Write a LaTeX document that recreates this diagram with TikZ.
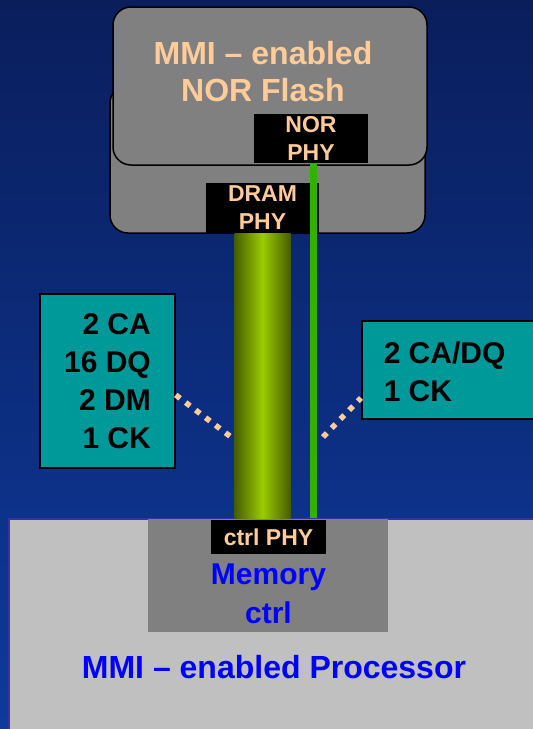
\documentclass[tikz,border=0pt]{standalone}
\usepackage{fontspec}
\setmainfont{Liberation Sans}
\usetikzlibrary{positioning,calc}
\definecolor{slidetop}{HTML}{0A1E5C}
\definecolor{slidebot}{HTML}{0E3A9C}
\definecolor{chipgray}{HTML}{808080}
\definecolor{socgray}{HTML}{C0C0C0}
\definecolor{peach}{HTML}{FFCC99}
\definecolor{sigteal}{HTML}{009999}
\definecolor{busdark}{HTML}{485C00}
\definecolor{buslite}{HTML}{99CC00}
\definecolor{norgreen}{HTML}{33B000}
\definecolor{socline}{HTML}{3B2FA6}
\definecolor{ctrlblue}{HTML}{0000FF}

\begin{document}
\begin{tikzpicture}[
  x=1pt, y=-1pt,
  pkg/.style    = {draw=black, line width=1.5pt, fill=chipgray, rounded corners=18pt},
  phy/.style    = {fill=black, text=peach, inner sep=0pt, align=center,
                   font=\bfseries\fontsize{23}{28}\selectfont},
  sig/.style    = {draw=black, line width=1.5pt, fill=sigteal, text=black, inner sep=0pt,
                   font=\bfseries\fontsize{30}{38}\selectfont},
  soc/.style    = {draw=socline, line width=2pt, fill=socgray},
  ctrl/.style   = {fill=chipgray, inner sep=0pt},
  blulbl/.style = {text=ctrlblue, align=center, inner sep=0pt,
                   font=\bfseries\fontsize{30}{39}\selectfont},
  pchlbl/.style = {text=peach, align=center, inner sep=0pt,
                   font=\bfseries\fontsize{32}{37}\selectfont},
  dqbus/.style  = {left color=busdark, right color=busdark, middle color=buslite},
  norbus/.style = {draw=norgreen, line width=7pt},
  tap/.style    = {draw=peach, line width=5.5pt, dash pattern=on 5.5pt off 7pt},
]
\useasboundingbox (0,0) rectangle (533,729);
\shade[top color=slidetop, bottom color=slidebot] (0,0) rectangle (533,729);

% --- the stacked package: DRAM die behind, NOR flash in front ---
\node[pkg, minimum width=315, minimum height=148] (dram) at (267.5,159) {};
\node[pkg, minimum width=314, minimum height=158] (nor) at (270,86) {};
\node[pchlbl] (norlbl) at (263,72) {MMI – enabled\\NOR Flash};
\node[phy, minimum width=114, minimum height=49] (norphy) at (311,138.5) {NOR\\PHY};
\node[phy, minimum width=113, minimum height=50] (dramphy) at (262.5,208) {DRAM\\PHY};

% --- the processor ---
\node[soc, minimum width=545, minimum height=225, anchor=north west] (cpu) at (8,518) {};
\node[ctrl, minimum width=240, minimum height=113, anchor=north] (memctrl) at (268,519) {};
\node[phy, minimum width=115, minimum height=34, anchor=north] (ctrlphy) at (268.5,520) {ctrl PHY};
\node[blulbl, below=9pt of ctrlphy] (mclbl) {Memory\\ctrl};
\node[blulbl, font=\bfseries\fontsize{32}{37}\selectfont] (proclbl) at (274,667) {MMI – enabled Processor};

% --- the two buses ---
\path[dqbus] ([xshift=-28pt]dramphy.south) rectangle ([xshift=28pt]dramphy.south |- cpu.north);
\draw[norbus] ([xshift=2pt]norphy.south) -- ([xshift=2pt]norphy.south |- cpu.north);

% --- signal counts ---
\node[sig, minimum width=135, minimum height=174, align=right] (dqbox) at (107.5,381)
  {2 CA\\16 DQ\\2 DM\\1 CK};
\node[sig, minimum width=190, minimum height=98, anchor=west] (cabox) at (361,370) {};
\node[sig, draw=none, fill=none, align=left, anchor=west] (calbl) at (383,372) {2 CA/DQ\\1 CK};
\coordinate (dqtap) at (231,437);
\coordinate (catap) at (323,437);
\draw[tap] ([yshift=-14pt]dqbox.east) -- (dqtap);
\draw[tap] (catap) -- ([yshift=-28pt]cabox.west);

\end{tikzpicture}
\end{document}
